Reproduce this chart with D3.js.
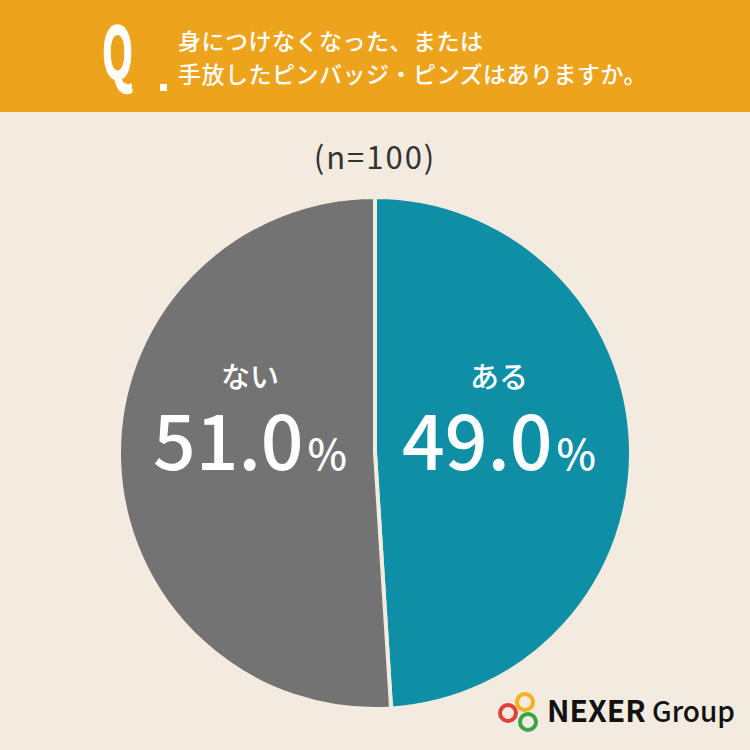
<!DOCTYPE html>
<html lang="ja">
<head>
<meta charset="UTF-8">
<title>ピンバッジ・ピンズ</title>
<script src="https://d3js.org/d3.v7.min.js"></script>
<style>
  body { margin: 0; background: #f3ebe0; }
  svg { display: block; }
  text { font-family: "Noto Sans CJK JP", "Noto Sans", sans-serif; }
</style>
</head>
<body>
<script>
// chart data
const categories = ["ある", "ない"];
const values = [49.0, 51.0];
const colors = ["#0e8fa5", "#737373"];
const questionLines = ["身につけなくなった、または", "手放したピンバッジ・ピンズはありますか。"];
const sampleLabel = "(n=100)";

const width = 750, height = 750;
const cx = 375, cy = 453, radius = 256;

const svg = d3.select("body").append("svg")
    .attr("width", width)
    .attr("height", height);

svg.append("rect").attr("width", width).attr("height", height).attr("fill", "#f3ebe0");

// header band
svg.append("rect").attr("width", width).attr("height", 112).attr("fill", "#eea31d");

svg.append("text")
    .attr("transform", "translate(102,79) scale(0.56,1)")
    .attr("fill", "#fff")
    .attr("stroke", "#fff")
    .attr("stroke-width", 1.5)
    .attr("font-family", "'Liberation Sans', Arial, sans-serif")
    .attr("font-weight", 700)
    .attr("font-size", 72)
    .text("Q");
svg.append("rect").attr("x", 160).attr("y", 84).attr("width", 7).attr("height", 7).attr("fill", "#fff");

svg.append("g").selectAll("text")
    .data(questionLines)
    .join("text")
    .attr("x", 178)
    .attr("y", (d, i) => 50 + i * 33)
    .attr("fill", "#fff")
    .attr("font-size", 23)
    .attr("font-weight", 500)
    .attr("letter-spacing", 0.5)
    .text(d => d);

svg.append("text")
    .attr("x", cx).attr("y", 169)
    .attr("text-anchor", "middle")
    .attr("fill", "#333")
    .attr("font-family", "'Noto Sans', sans-serif")
    .attr("font-size", 31)
    .attr("letter-spacing", 2)
    .text(sampleLabel);

// pie
const pie = d3.pie().sort(null).value(d => d.value);
const arc = d3.arc().innerRadius(0).outerRadius(radius);
const data = categories.map((c, i) => ({ name: c, value: values[i], color: colors[i] }));
const arcs = pie(data);

const g = svg.append("g").attr("transform", `translate(${cx},${cy})`);

g.selectAll("path")
    .data(arcs)
    .join("path")
    .attr("d", arc)
    .attr("fill", d => d.data.color)
    .attr("stroke", "#f3ebe0")
    .attr("stroke-width", 4)
    .attr("stroke-linejoin", "round");

const labelArc = d3.arc().innerRadius(radius * 0.5).outerRadius(radius * 0.5);

const labels = g.selectAll("g.label")
    .data(arcs)
    .join("g")
    .attr("class", "label")
    .attr("transform", d => {
        const [x] = labelArc.centroid(d);
        return `translate(${x > 0 ? 124 : -125},0)`;
    });

labels.append("text")
    .attr("y", -65)
    .attr("text-anchor", "middle")
    .attr("fill", "#fff")
    .attr("font-size", 29)
    .attr("font-weight", 500)
    .text(d => d.data.name);

const pct = labels.append("text")
    .attr("y", 17)
    .attr("text-anchor", "middle")
    .attr("fill", "#fff")
    .attr("font-family", "Inter, 'Noto Sans', sans-serif")
    .attr("font-weight", 500);
pct.append("tspan").attr("font-size", 75).text(d => d.data.value.toFixed(1));
pct.append("tspan").attr("font-size", 42).attr("dx", 4).text("%");

// logo
const logo = svg.append("g");
const rings = [
    { x: 525, y: 702, c: "#f2b418" },
    { x: 508, y: 713, c: "#e2403a" },
    { x: 528, y: 722, c: "#3aa54a" }
];
logo.selectAll("circle")
    .data(rings)
    .join("circle")
    .attr("cx", d => d.x).attr("cy", d => d.y).attr("r", 8)
    .attr("fill", "none")
    .attr("stroke", d => d.c)
    .attr("stroke-width", 4);
logo.append("text")
    .attr("x", 547).attr("y", 722)
    .attr("fill", "#111")
    .attr("font-family", "'Noto Sans', sans-serif")
    .attr("font-weight", 700)
    .attr("font-size", 30)
    .text("NEXER");
logo.append("text")
    .attr("x", 652).attr("y", 722)
    .attr("fill", "#111")
    .attr("font-family", "'Noto Sans', sans-serif")
    .attr("font-weight", 500)
    .attr("font-size", 28)
    .text("Group");
</script>
</body>
</html>
